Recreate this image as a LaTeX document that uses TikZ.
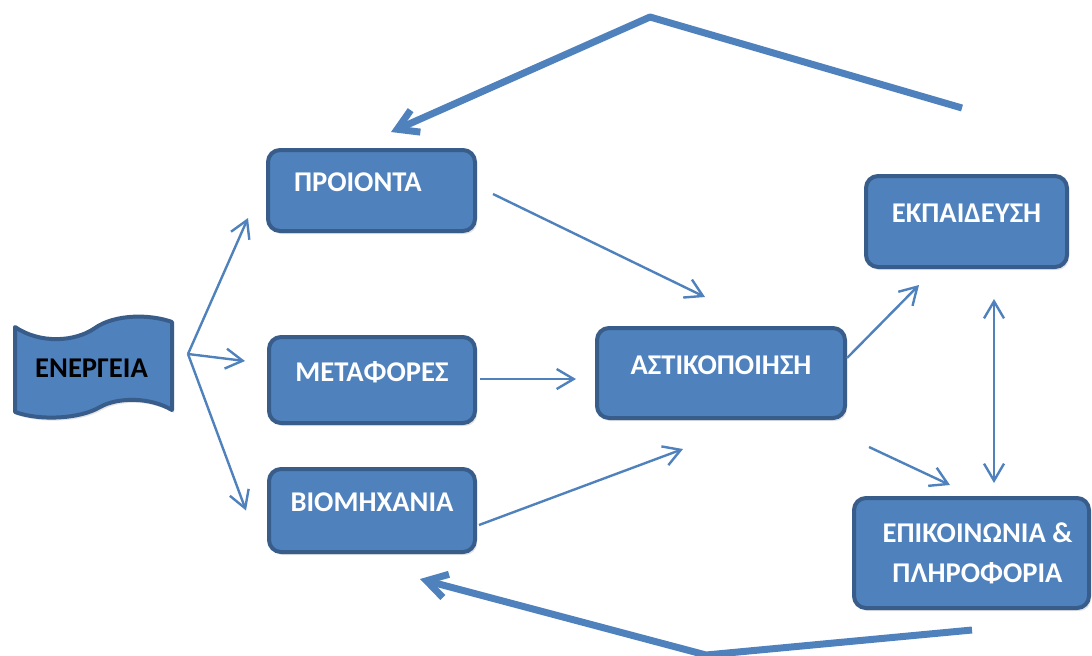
\documentclass[tikz,border=0pt]{standalone}
\usepackage{fontspec}
\setmainfont{Carlito}
\usepackage{xcolor}
\definecolor{boxBlue}{RGB}{79,129,189}
\definecolor{boxEdge}{RGB}{56,93,138}
\usepackage{tikz}
\usetikzlibrary{arrows.meta,calc,shadows}
\tikzset{
  cbox/.style={rectangle,rounded corners=6pt,draw=boxEdge,line width=2pt,
    fill=boxBlue,text=white,align=center,
    font=\bfseries\fontsize{14.3}{20}\selectfont,
    drop shadow={opacity=0.22,shadow xshift=1pt,shadow yshift=-1.5pt}},
  onerow/.style={text height=9pt,text depth=8pt},
  arr/.style={-{Straight Barb[length=8.5pt,width=10pt]},draw=boxBlue,line width=1.2pt},
  twoway/.style={{Straight Barb[length=8.5pt,width=10pt]}-{Straight Barb[length=8.5pt,width=10pt]},
    draw=boxBlue,line width=1.2pt},
  bigarr/.style={draw=boxBlue,line width=3.5pt,line join=round},
  flag/.style={draw=boxEdge,line width=2pt,fill=boxBlue,line join=round,
    drop shadow={opacity=0.22,shadow xshift=1pt,shadow yshift=-1.5pt}}
}
\begin{document}
\begin{tikzpicture}[x=0.5pt,y=-0.5pt]
  \useasboundingbox (0,0) rectangle (1092,655);
  % energy banner
  \draw[flag] (15,327) .. controls (40,344) and (75,342) .. (95,328)
    .. controls (115,314) and (150,314) .. (172,322) -- (172,410)
    .. controls (150,397) and (118,397) .. (100,407)
    .. controls (80,419) and (40,421) .. (15,412) -- cycle;
  \node[font=\bfseries\fontsize{14.3}{20}\selectfont] (energeia) at (91.5,368.5) {ΕΝΕΡΓΕΙΑ};
  \coordinate (fork) at (188,354);
  % boxes
  \node[cbox,onerow,align=left,text width=77.5pt,inner xsep=13pt,
    minimum height=40.5pt] (proionta) at (371.5,190.5) {ΠΡΟΙΟΝΤΑ};
  \node[cbox,onerow,minimum width=103pt,minimum height=43pt] (metafores) at (372,380) {ΜΕΤΑΦΟΡΕΣ};
  \node[cbox,onerow,minimum width=103pt,minimum height=41.5pt] (viomichania) at (372,510.5) {ΒΙΟΜΗΧΑΝΙΑ};
  \node[cbox,onerow,minimum width=124pt,minimum height=45pt] (astik) at (721,373) {ΑΣΤΙΚΟΠΟΙΗΣΗ};
  \node[cbox,onerow,minimum width=100.5pt,minimum height=45.5pt] (ekp) at (966.5,221.5) {ΕΚΠΑΙΔΕΥΣΗ};
  \node[cbox,minimum width=117.5pt,minimum height=55pt] (epik) at (971.5,553)
    {\hspace*{6pt}ΕΠΙΚΟΙΝΩΝΙΑ \&\\\hspace*{6pt}ΠΛΗΡΟΦΟΡΙΑ};
  % thin arrows
  \draw[arr] (fork) -- ($(proionta.south west)+(-18,-15)$);
  \draw[arr] (fork) -- ($(metafores.west)+(-22,-19)$);
  \draw[arr] (fork) -- ($(viomichania.west)+(-21,0)$);
  \draw[arr] ($(proionta.east)+(16,3.5)$) -- ($(astik.north)+(-16,-29)$);
  \draw[arr] ($(metafores.east)+(3,-1)$) -- ($(astik.west)+(-19,6)$);
  \draw[arr] ($(viomichania.east)+(2,14.5)$) -- ($(astik.south)+(-38,29)$);
  \draw[arr] ($(astik.east)+(0,-15)$) -- ($(ekp.south west)+(55,16)$);
  \draw[arr] ($(astik.south east)+(22,27)$) -- ($(epik.north)+(-21.5,-11)$);
  \draw[twoway] ($(ekp.south)+(27.5,30)$) -- ($(epik.north)+(22.5,-13)$);
  % feedback lines
  \coordinate (topApex) at (650,17);
  \coordinate (topEnd) at (962,108);
  \coordinate (botApex) at (706,655);
  \coordinate (botEnd) at ($(epik.south)+(0.5,20)$);
  \draw[bigarr,-{Straight Barb[length=10pt,width=12pt]}] (topEnd) -- (topApex)
    -- ($(proionta.north)+(19.5,-16)$);
  \draw[bigarr,-{Straight Barb[length=10pt,width=12pt]}] (botEnd) -- (botApex)
    -- ($(viomichania.south)+(48,25)$);
\end{tikzpicture}
\end{document}
